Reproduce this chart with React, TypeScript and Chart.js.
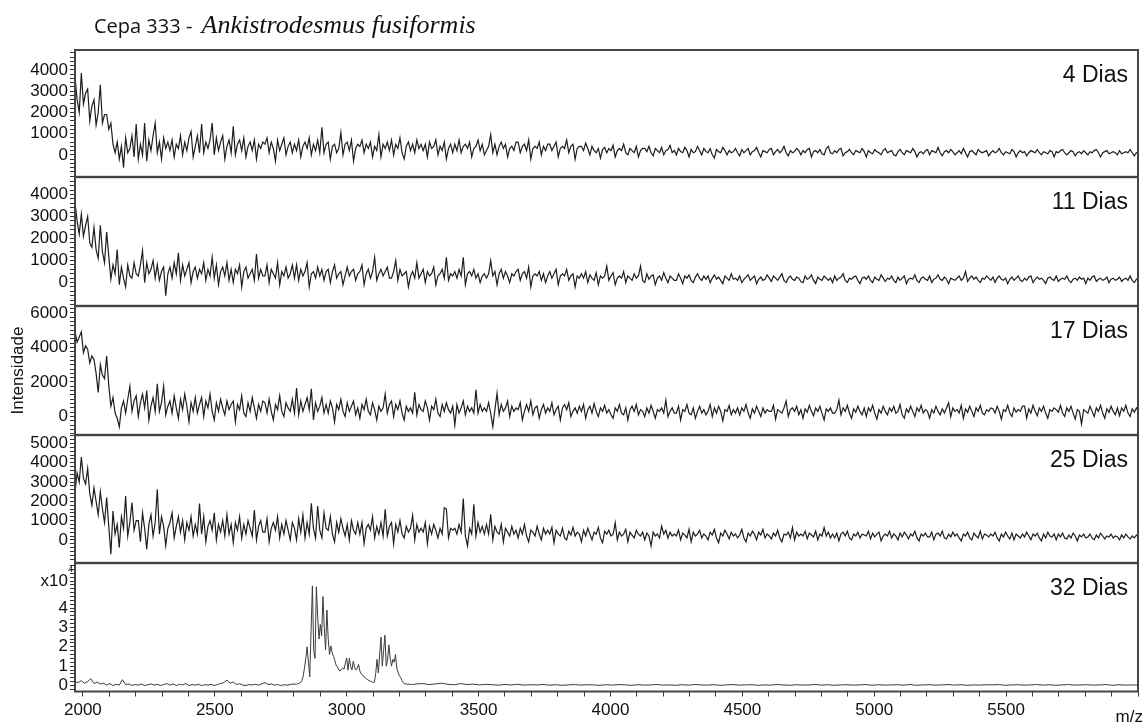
import { useEffect, useRef } from "react";
import { Chart, registerables } from "chart.js";

Chart.register(...registerables);

const SANS = '"Liberation Sans", Arial, Helvetica, sans-serif';
Chart.defaults.font.family = SANS;
Chart.defaults.color = "#111";

// m/z range shown on the shared x axis
const MZ_MIN = 1970;
const MZ_MAX = 6000;
// sampling step (m/z) of the noise traces
const MZ_STEP = 8;

const dayLabels = ["4 Dias", "11 Dias", "17 Dias", "25 Dias", "32 Dias"];
const mzLabelled = [2000, 2500, 3000, 3500, 4000, 4500, 5000, 5500];
const MZ_TICK_FIRST = 2000;
const MZ_TICK_STEP = 100;

// Intensity, 4 days (m/z 1970, 1978, ... step 8; 15 values per 120 m/z)
const day4 = [
  3700, 2600, 2000, 3850, 2400, 2900, 3100, 1600, 2300, 2600, 1400, 2000, 3300, 1500, 1900,
  1900, 1200, 1500, 500, 100, 600, -200, 400, -600, 800, 100, 300, 900, -100, 1450,
  -200, 500, 0, 1500, -300, 700, 200, 900, 1500, 100, 600, -200, 800, 300, 600,
  200, 700, -100, 500, 300, 900, 0, 600, 200, 800, 1100, -100, 400, 900, 100,
  1450, 100, 600, 300, 700, 1500, 0, 800, 200, 600, 900, -200, 400, 700, 100,
  1350, 0, 500, 700, 200, 800, -100, 400, 600, 200, 700, -200, 500, 300, 600,
  500, 800, 100, 600, 300, -300, 700, 200, 500, 800, 0, 400, 600, 100, 500,
  200, 700, -100, 400, 600, 300, 800, 0, 500, 200, 700, 100, 1300, 100, 500,
  600, -200, 400, 500, 100, 300, 1050, 0, 500, 600, 200, 700, -300, 300, 500,
  400, 700, 100, 500, 300, 600, -100, 400, 200, 950, -100, 500, 300, 600, 200,
  700, 0, 500, 300, 800, 100, -200, 400, 600, 200, 500, 100, 700, 300, 500,
  200, 500, -100, 600, 300, 400, 700, 0, 400, 200, 600, -200, 300, 500, 100,
  500, 200, 700, 100, 400, 500, 300, 600, -100, 300, 400, 700, 200, 500, 0,
  200, 400, 950, 100, 500, 0, 400, 600, 300, 500, -100, 300, 400, 200, 600,
  600, 100, 400, 500, 200, 700, -200, 300, 400, 300, 600, 0, 400, 200, 500,
  500, 200, 400, 600, -100, 300, 400, 300, 700, 100, 400, 500, -200, 300, 400,
  400, 200, 550, 300, 0, 400, 200, 100, 300, -150, 250, 350, 100, 300, 200,
  450, -100, 200, 300, 200, 500, 100, 0, 300, 200, 100, 400, -100, 200, 300,
  300, 150, 400, 100, -50, 300, 200, 100, 350, 0, 200, 250, 450, 100, 200,
  0, 300, 150, 100, 350, 200, -100, 250, 100, 150, 400, 200, 0, 300, 150,
  100, 300, 0, -150, 250, 150, 100, 350, 200, 0, 200, 100, 150, 300, 100,
  -50, 250, 100, 200, 300, 0, 150, 200, 350, 100, -100, 200, 150, 100, 250,
  300, 0, 150, 250, 100, 200, 400, 100, -50, 200, 100, 150, 300, 200, 0,
  200, 100, 250, 300, -100, 150, 200, 100, 250, 50, 0, 300, 400, 100, 50,
  200, 100, 250, 300, -50, 100, 150, 250, 100, 0, 200, 150, 100, 300, 150,
  -100, 200, 100, 50, 250, 150, 100, 0, 200, 300, 100, 150, 200, 0, -50,
  150, 250, 100, 0, 200, 150, 100, 300, 150, -100, 100, 150, 50, 200, 250,
  0, 200, 150, 100, 350, 100, -50, 150, 200, 100, 250, 150, 0, 100, 200,
  50, 300, 100, -100, 150, 200, 100, 0, 250, 150, 100, 150, 200, -50, 100,
  200, 100, 150, 300, 100, 0, 150, 100, 50, 250, 150, -100, 100, 200, 100,
  150, -50, 100, 200, 150, 100, 250, 100, 0, 150, 100, 50, 200, 150, -100,
  150, 100, 200, 250, 100, 0, 100, 200, 150, -50, 100, 150, 50, 200, 100,
  0, 150, 100, 200, 250, 100, -100, 100, 150, 200, 50, 100, 150, 100, 0,
  200, 50, 100, 150, 100, 250, 100, -50, 100, 150,
];

// Intensity, 11 days
const day11 = [
  3650, 2800, 2200, 3100, 2100, 2600, 3000, 1800, 1600, 2500, 1500, 1100, 2600, 1400, 900,
  2300, 1200, 150, 800, 400, 1500, -100, 700, 200, -200, 800, 300, 200, 900, 400,
  300, 800, 1450, 0, 900, 400, 600, 1000, 200, 800, 100, 500, 700, -600, 400,
  700, 200, 900, 400, 1350, 100, 800, 300, 600, 900, 0, 500, 700, 200, 600,
  400, 900, 100, 600, 300, 1150, 200, 800, -100, 500, 700, 300, 900, 100, 600,
  0, 600, 400, 800, -200, 500, 700, 200, 400, 600, 100, 1300, 200, 600, 300,
  300, 800, 0, 600, 400, 200, 900, -100, 500, 300, 700, 200, 400, 800, 200,
  800, 100, 600, 300, 500, 900, -200, 400, 500, 200, 700, 300, 600, 100, 500,
  600, 0, 500, 800, 200, 400, 500, -100, 300, 700, 300, 500, 600, 100, 400,
  500, 800, -100, 400, 600, 200, 500, 1150, 100, 400, 600, 300, 500, 700, 200,
  200, 500, 1000, 100, 600, 300, 400, 500, -200, 300, 500, 200, 900, 200, 400,
  600, 0, 500, 300, 400, 700, -100, 300, 400, 600, 200, 1150, 100, 400, 300,
  500, 200, 600, 300, 1150, -100, 400, 500, 300, 600, 200, 400, 0, 300, 400,
  200, 400, 1000, 300, 500, -100, 400, 600, 200, 500, 300, 0, 400, 300, 500,
  600, 100, 400, 500, 200, 700, -200, 300, 400, 300, 500, 100, 400, 0, 300,
  500, 200, 400, 600, -100, 300, 400, 300, 600, 100, 300, 400, -200, 300, 200,
  400, 200, 500, 0, 350, 200, 100, 450, -100, 300, 200, 300, 750, 100, 300,
  450, -100, 200, 300, 200, 500, 0, 300, 200, 100, 400, 200, 300, 750, 100,
  0, 400, 150, 300, 350, -100, 200, 300, 100, 450, 200, 0, 300, 200, 100,
  100, 400, 200, -50, 300, 200, 350, 100, 0, 250, 400, 200, 100, 300, 150,
  300, 0, 200, 350, 150, 250, 100, -50, 300, 200, 100, 400, 150, 200, 100,
  300, 0, 150, 250, 350, 100, 200, 300, -50, 150, 250, 100, 150, 350, 200,
  50, 300, 200, 100, 250, 400, 100, 0, 200, 300, 150, 100, 250, 200, 50,
  0, 300, 150, 200, 350, 100, -50, 250, 150, 100, 300, 200, 100, 200, 0,
  300, 100, 200, 250, 400, 100, 0, 200, 150, 250, 300, 100, -50, 200, 250,
  150, 300, 100, 0, 250, 150, 100, 350, 200, 50, 200, 150, 300, 100, 0,
  250, 100, 200, 300, -50, 150, 200, 150, 350, 100, 0, 200, 250, 150, 100,
  300, 0, 150, 200, 350, 150, 100, 250, 150, -50, 200, 150, 100, 200, 300,
  100, 200, 500, 50, 200, 300, 150, 250, 100, 0, 200, 150, 300, 200, 100,
  250, 0, 200, 300, 150, 100, 200, -50, 150, 250, 100, 200, 300, 100, 50,
  200, 100, 250, 300, 0, 150, 250, 150, 200, 100, -50, 200, 250, 150, 100,
  300, 50, 150, 200, 150, 300, 100, 0, 150, 200, 100, 250, 150, 200, -50,
  200, 100, 250, 300, 50, 150, 200, 100, 150, 250, 0, 150, 200, 100, 150,
  250, 50, 150, 200, 100, 300, 100, 0, 150, 200,
];

// Intensity, 17 days
const day17 = [
  4950, 4300, 4600, 4900, 3700, 4100, 3900, 3100, 3500, 3300, 2500, 1400, 3000, 2400, 2200,
  3500, 1800, 600, 1100, 200, -100, -600, 500, 900, 200, 1000, 1750, 300, 900, 1200,
  0, 800, 1300, 500, 1500, -200, 600, 1100, 300, 1900, 300, 800, 1750, 100, 600,
  900, 200, 1200, 500, -100, 1000, 400, 1300, 600, -300, 800, 300, 1100, 200, 700,
  1100, 0, 900, 500, 1300, 300, -200, 800, 300, 1000, 500, 100, 900, 400, 700,
  900, -300, 700, 400, 1200, 200, 0, 800, 300, 1100, 500, -100, 700, 300, 900,
  800, 200, 1000, 300, -200, 700, 400, 1200, 300, 0, 800, 500, 300, 1000, 200,
  1650, 100, 900, 300, 700, 1100, 400, 1600, -200, 800, 300, 600, 1100, 200, 700,
  200, 900, 500, -300, 700, 400, 1000, 300, 0, 800, 300, 600, 900, 100, 500,
  -100, 700, 400, 1000, 300, 100, 800, 400, -200, 600, 300, 500, 1300, 200, 700,
  900, 0, 700, 400, 900, 200, -200, 600, 300, 500, 200, 1400, 100, 700, 400,
  300, 900, 500, -200, 600, 400, 1000, 200, 0, 700, 300, 800, 400, 200, 600,
  -500, 700, 200, 500, 900, 100, 600, 300, 500, 200, 1550, 200, 700, 300, 500,
  300, 800, 200, -580, 400, 1350, 100, 700, 300, 500, 900, 0, 600, 300, 500,
  400, 800, -200, 300, 700, 300, 900, 100, 500, 600, -100, 400, 700, 200, 500,
  300, 800, 100, 400, 600, -200, 500, 700, 400, 800, 0, 300, 500, 200, 600,
  300, 700, -100, 400, 600, 200, 750, 300, 0, 500, 300, 650, 200, 400, 100,
  -100, 500, 300, 700, 200, 100, 500, -200, 400, 600, 300, 700, 100, 400, 300,
  0, 500, 200, 650, 300, -100, 400, 300, 500, 200, 950, 0, 300, 500, 200,
  200, 600, -200, 400, 300, 700, 200, 100, 500, -100, 300, 600, 200, 400, 100,
  300, 700, 0, 500, 200, 600, 300, -250, 400, 300, 650, 100, 400, 200, 500,
  100, 500, 300, 700, 200, -100, 450, 200, 600, 300, 0, 500, 200, 400, 300,
  300, 650, -150, 400, 300, 200, 500, 900, 0, 400, 500, 300, 600, 100, 400,
  -100, 450, 250, 650, 300, 50, 500, 300, 600, 200, -200, 450, 300, 500, 200,
  200, 400, 950, 100, 500, 300, 650, 200, -100, 450, 250, 600, 300, 100, 500,
  0, 500, 300, 650, 200, -150, 400, 200, 600, 300, 100, 500, 300, 600, 200,
  300, 700, 100, -100, 450, 250, 600, 300, 0, 500, 300, 650, 200, 400, 300,
  -100, 400, 200, 600, 300, 100, 450, 200, 500, 800, 0, 500, 300, 400, 200,
  650, -100, 450, 250, 600, 300, 0, 500, 300, 650, 200, 100, 400, 300, 500,
  450, 200, 600, 300, -150, 400, 300, 650, 200, 0, 500, 250, 400, 300, 600,
  600, -100, 450, 200, 650, 300, 50, 500, 300, 600, 200, -100, 400, 300, 500,
  400, 250, 650, 200, 0, 500, 300, 600, 200, -150, 400, 300, -440, 400, 300,
  200, 600, 300, 0, 500, 300, 650, 200, -100, 450, 250, 600, 300, 100, 500,
  50, 500, 300, 650, 200, 0, 450, 250, 500, 300,
];

// Intensity, 25 days
const day25 = [
  2430, 3470, 3000, 4300, 3200, 2900, 3700, 2400, 1800, 2700, 2000, 1300, 2500, 1600, 900,
  2200, 700, -740, 1500, 300, 800, -400, 1200, 600, 2280, 200, 900, 1930, 500, 1000,
  1000, -100, 1400, 600, -480, 800, 1300, 200, 900, 2620, 300, 1200, 700, -300, 600,
  900, 1400, 100, 700, 1200, 400, 1000, 0, 900, 500, 1200, 200, 800, 300, 1880,
  300, 1200, -100, 700, 1000, 500, 1400, 0, 800, 400, 1000, 200, 1300, 300, 800,
  -140, 900, 500, 1200, 100, 800, 300, 1000, 600, 200, 1550, 0, 700, 1000, 400,
  400, 1100, -100, 600, 900, 500, 1200, 100, 800, 300, 1000, 500, 0, 900, 600,
  0, 1100, 400, 1300, 100, 900, 300, 1900, 600, 100, 1760, 500, 100, 1400, 600,
  500, 1200, 300, -100, 900, 400, 1100, 600, 200, 800, 0, 1000, 500, 300, 900,
  300, 900, -200, 600, 800, 500, 1200, 100, 700, 300, 900, 200, 1590, 200, 700,
  900, -200, 800, 400, 1000, 300, 100, 700, 400, 600, 1270, 0, 800, 400, 600,
  400, 900, -200, 700, 300, 800, 500, 100, 600, 300, 1670, 1600, 100, 600, 500,
  600, 300, 800, 400, 2140, 200, -310, 600, 300, 1850, 200, 900, 400, 700, 300,
  800, 300, 1330, 0, 700, 400, 300, 800, -100, 600, 400, 200, 700, 300, 500,
  100, 600, 300, 800, 200, -100, 500, 400, 200, 700, 300, 0, 600, 300, 500,
  300, 650, -150, 500, 300, 200, 600, 100, 0, 450, 250, 650, 200, 400, 300,
  -100, 500, 200, 600, 300, 0, 400, 300, 650, 100, -150, 450, 300, 500, 200,
  300, 890, 0, 400, 200, 300, 550, -100, 400, 250, 100, 500, 300, 200, 400,
  0, 350, 200, -310, 400, 200, 300, 100, 720, 300, 500, 100, 400, 200, 300,
  200, 500, 0, 350, 250, 100, 550, -100, 400, 200, 300, 500, 100, 300, 200,
  0, 400, 250, 550, 100, -150, 350, 200, 500, 300, 50, 400, 200, 300, 100,
  250, 550, 100, -100, 350, 200, 450, 300, 0, 400, 250, 550, 100, 300, 200,
  50, 350, 200, 500, 100, -100, 300, 250, 400, 100, 640, 0, 400, 200, 300,
  200, 450, 50, 350, 250, 150, 450, 0, 300, 200, 640, 200, 400, 100, 300,
  100, 350, -50, 300, 400, 200, 450, 100, 0, 300, 200, 400, 100, 300, 250,
  200, 450, 50, 350, 150, 300, 400, -50, 200, 300, 200, 450, 100, 300, 200,
  0, 350, 150, 400, 250, 50, 300, 200, 450, 100, -50, 300, 200, 350, 150,
  150, 400, 0, 300, 350, 200, 450, 100, 50, 300, 150, 400, 200, 300, 100,
  -50, 300, 200, 400, 100, 0, 350, 200, 100, 450, 50, 300, 250, 150, 300,
  200, 400, 100, -50, 300, 150, 400, 200, 50, 350, 0, 300, 200, 100, 300,
  150, 400, 200, 0, 300, 200, 350, 100, -50, 300, 100, 400, 200, 150, 300,
  0, 300, 150, 350, 100, 50, 250, 100, 350, 200, -50, 250, 150, 300, 100,
  150, 300, 100, 0, 250, 100, 350, 200, 50, 200, 150, 300, 100, 200, 150,
  0, 250, 100, 300, 150, 50, 200, 100, 250, 150,
];

// Intensity (x10^4), 32 days: m/z 1970..2798, step 12
const day32Start = [
  0.2, 0.15, 0.25, 0.12, 0.2, 0.35, 0.1, 0.18, 0.08, 0.12,
  0.02, 0.1, 0.0, 0.06, 0.02, 0.3, 0.05, 0.08, 0.0, 0.05,
  0.02, 0.07, 0.0, 0.04, 0.08, 0.02, 0.06, 0.0, 0.05, 0.1,
  0.02, 0.08, 0.0, 0.06, 0.03, 0.1, 0.0, 0.05, 0.02, 0.06,
  0.0, 0.04, 0.02, 0.06, 0.0, 0.05, 0.1, 0.15, 0.28, 0.12,
  0.18, 0.05, 0.1, 0.02, 0.0, 0.05, 0.03, 0.06, 0.02, 0.08,
  0.15, 0.05, 0.08, 0.02, 0.05, 0.0, 0.04, 0.02, 0.05, 0.08,
];
const DAY32_START_STEP = 12;
// 32 days, peak cluster: m/z 2800..3250, step 5
const day32Peaks = [
  0.05, 0.08, 0.06, 0.1, 0.12, 0.15, 0.25, 0.48, 0.9, 1.4,
  2.0, 1.2, 0.45, 2.8, 5.15, 1.8, 1.4, 5.1, 3.6, 2.4,
  3.15, 2.55, 4.6, 3.0, 1.85, 3.9, 2.4, 1.6, 2.05, 1.7,
  1.5, 1.3, 1.05, 0.95, 0.8, 0.75, 0.85, 0.9, 0.85, 1.15,
  1.42, 0.8, 1.4, 1.0, 0.8, 1.25, 0.95, 0.8, 0.9, 1.08,
  0.75, 0.6, 0.55, 0.45, 0.4, 0.35, 0.3, 0.25, 0.22, 0.2,
  0.15, 0.18, 0.6, 1.35, 0.65, 1.6, 2.5, 1.0, 1.8, 2.6,
  1.0, 1.3, 2.1, 1.4, 1.0, 1.35, 1.2, 1.6, 0.9, 0.66,
  0.5, 0.4, 0.25, 0.15, 0.07, 0.1, 0.05, 0.08, 0.04, 0.06,
  0.05,
];
// 32 days, tail: m/z 3264..6000, step 24
const day32Tail = [
  0.08, 0.1, 0.05, 0.08, 0.12, 0.06, 0.04, 0.1, 0.05, 0.07,
  0.03, 0.06, 0.04, 0.02, 0.05, 0.03, 0.06, 0.02, 0.04, 0.03,
  0.05, 0.02, 0.04, 0.01, 0.03, 0.05, 0.02, 0.04, 0.03, 0.01,
  0.04, 0.02, 0.05, 0.03, 0.01, 0.04, 0.02, 0.03, 0.05, 0.02,
  0.03, 0.01, 0.04, 0.02, 0.05, 0.03, 0.02, 0.04, 0.01, 0.03,
  0.05, 0.02, 0.03, 0.04, 0.01, 0.03, 0.02, 0.05, 0.03, 0.01,
  0.04, 0.02, 0.03, 0.05, 0.02, 0.04, 0.01, 0.03, 0.04, 0.02,
  0.03, 0.05, 0.01, 0.04, 0.02, 0.03, 0.04, 0.02, 0.05, 0.01,
  0.03, 0.04, 0.02, 0.03, 0.05, 0.02, 0.04, 0.01, 0.03, 0.02,
  0.04, 0.03, 0.05, 0.01, 0.03, 0.04, 0.02, 0.03, 0.05, 0.02,
  0.04, 0.01, 0.03, 0.05, 0.02, 0.03, 0.04, 0.02, 0.03, 0.05,
  0.01, 0.04, 0.02, 0.03, 0.02,
];

type Pt = { x: number; y: number };
const toPoints = (values: number[], start: number, step: number): Pt[] =>
  values.map((y, i) => ({ x: start + i * step, y }));

const SERIES: Pt[][] = [
  toPoints(day4, MZ_MIN, MZ_STEP),
  toPoints(day11, MZ_MIN, MZ_STEP),
  toPoints(day17, MZ_MIN, MZ_STEP),
  toPoints(day25, MZ_MIN, MZ_STEP),
  [
    ...toPoints(day32Start, MZ_MIN, DAY32_START_STEP),
    ...toPoints(day32Peaks, 2800, 5),
    ...toPoints(day32Tail, 3264, 24),
  ],
];

// Layout of the stacked panels (page pixels) and their value ranges
type PanelSpec = {
  top: number;
  bottom: number;
  yMin: number;
  yMax: number;
  minorStep: number;
  majorStep: number;
  labelMax: number;
};
const PANELS: PanelSpec[] = [
  { top: 50, bottom: 177, yMin: -1035, yMax: 4940, minorStep: 200, majorStep: 1000, labelMax: 4000 },
  { top: 177, bottom: 306, yMin: -1055, yMax: 4785, minorStep: 200, majorStep: 1000, labelMax: 4000 },
  { top: 306, bottom: 435, yMin: -1056, yMax: 6386, minorStep: 250, majorStep: 2000, labelMax: 6000 },
  { top: 435, bottom: 563, yMin: -1190, yMax: 5430, minorStep: 200, majorStep: 1000, labelMax: 5000 },
  { top: 563, bottom: 691.5, yMin: -0.31, yMax: 6.32, minorStep: 0.2, majorStep: 1, labelMax: 4 },
];

const PAGE_W = 1145;
const PAGE_H = 723;
const AXIS_W = 75;
const RIGHT_PAD = 7;
const FRAME_COLOR = "#454545";

// regularly spaced tick values between lo and hi
function tickRange(lo: number, hi: number, step: number) {
  const out: { value: number }[] = [];
  const first = Math.ceil(lo / step - 1e-9);
  for (let k = first; k * step <= hi + 1e-9; k++) {
    out.push({ value: Math.round(k * step * 1e6) / 1e6 });
  }
  return out;
}

function canvasBox(i: number) {
  const p = PANELS[i];
  const top = i === 0 ? 0 : p.top - 12;
  const bottom = i === PANELS.length - 1 ? PAGE_H : p.bottom + 12;
  return { top, height: bottom - top };
}

function decorPlugin(i: number) {
  return {
    id: "panelDecor",
    afterDraw(chart: Chart) {
      const { ctx, chartArea: a } = chart;
      const box = canvasBox(i);
      ctx.save();
      // frame around the panel
      ctx.strokeStyle = FRAME_COLOR;
      ctx.lineWidth = 2;
      ctx.strokeRect(a.left, a.top, a.right - a.left, a.bottom - a.top);
      // day label
      ctx.fillStyle = "#111";
      ctx.textBaseline = "alphabetic";
      ctx.textAlign = "right";
      ctx.font = `23px ${SANS}`;
      ctx.fillText(dayLabels[i], a.right - 10, a.top + 31.5);
      if (i === 0) {
        ctx.textAlign = "left";
        ctx.font = '20px "Open Sans", "Noto Sans", sans-serif';
        const lead = "Cepa 333 - ";
        ctx.fillText(lead, 94, 33);
        const w = ctx.measureText(lead).width;
        ctx.font = 'italic 26px "Liberation Serif", "Times New Roman", serif';
        ctx.fillText("Ankistrodesmus fusiformis", 94 + w + 4, 33);
      }
      if (i === PANELS.length - 1) {
        ctx.textAlign = "right";
        ctx.font = `17px ${SANS}`;
        ctx.fillText("m/z", 1143, 722 - box.top);
        ctx.fillText("x10", 68, 586 - box.top);
        ctx.textAlign = "left";
        ctx.font = `9px ${SANS}`;
        ctx.fillText("4", 68, 572 - box.top);
      }
      ctx.restore();
    },
  };
}

function makeChart(canvas: HTMLCanvasElement, i: number) {
  const p = PANELS[i];
  const box = canvasBox(i);
  const isLast = i === PANELS.length - 1;
  const padTop = p.top - box.top;
  const padBottom = isLast ? 0 : box.top + box.height - p.bottom;
  const xAxisHeight = isLast ? box.top + box.height - p.bottom : 0;
  const tickFont = { family: SANS, size: 17 };
  const tickGrid = {
    display: true,
    drawOnChartArea: false,
    drawTicks: true,
    tickLength: 5,
    tickColor: "#333",
    tickWidth: 1,
  };

  return new Chart(canvas, {
    type: "line",
    data: {
      datasets: [
        {
          data: SERIES[i],
          borderColor: isLast ? "#3c3c3c" : "#1e1e1e",
          borderWidth: isLast ? 1 : 1.2,
          pointRadius: 0,
          tension: 0,
          fill: false,
        },
      ],
    },
    options: {
      animation: false,
      responsive: false,
      devicePixelRatio: 1,
      parsing: false,
      normalized: true,
      events: [],
      layout: { padding: { left: 0, right: RIGHT_PAD, top: padTop, bottom: padBottom } },
      plugins: {
        legend: { display: false },
        tooltip: { enabled: false },
        title: { display: false },
      },
      scales: {
        x: {
          type: "linear",
          min: MZ_MIN,
          max: MZ_MAX,
          display: isLast,
          afterBuildTicks: (s: any) => {
            s.ticks = tickRange(MZ_TICK_FIRST, MZ_MAX, MZ_TICK_STEP);
          },
          afterFit: (s: any) => {
            s.height = xAxisHeight;
          },
          border: { display: false },
          grid: tickGrid,
          ticks: {
            autoSkip: false,
            maxRotation: 0,
            minRotation: 0,
            padding: 4,
            color: "#111",
            font: tickFont,
            callback: (v: any) => (mzLabelled.includes(Number(v)) ? String(v) : ""),
          },
        },
        y: {
          type: "linear",
          min: p.yMin,
          max: p.yMax,
          afterBuildTicks: (s: any) => {
            s.ticks = tickRange(p.yMin, p.yMax, p.minorStep);
          },
          afterFit: (s: any) => {
            s.width = AXIS_W;
          },
          border: { display: false },
          grid: tickGrid,
          ticks: {
            autoSkip: false,
            padding: 2,
            color: "#111",
            font: tickFont,
            callback: (v: any) => {
              const n = Number(v);
              if (n < -1e-9 || n > p.labelMax + 1e-9) return "";
              const k = n / p.majorStep;
              return Math.abs(k - Math.round(k)) < 1e-6 ? String(Math.round(k) * p.majorStep) : "";
            },
          },
          title: {
            display: i === 2,
            text: "Intensidade",
            color: "#111",
            font: { family: SANS, size: 17 },
            padding: { top: 8, bottom: 0 },
          },
        },
      },
    },
    plugins: [decorPlugin(i)],
  } as any);
}

export default function App() {
  const refs = useRef<(HTMLCanvasElement | null)[]>([]);

  useEffect(() => {
    const charts = PANELS.map((_, i) => makeChart(refs.current[i] as HTMLCanvasElement, i));
    return () => charts.forEach((c) => c.destroy());
  }, []);

  return (
    <div
      style={{
        position: "fixed",
        left: 0,
        top: 0,
        width: PAGE_W,
        height: PAGE_H,
        background: "#fff",
        overflow: "hidden",
      }}
    >
      {PANELS.map((_, i) => {
        const box = canvasBox(i);
        return (
          <canvas
            key={i}
            ref={(el) => {
              refs.current[i] = el;
            }}
            width={PAGE_W}
            height={box.height}
            style={{ position: "absolute", left: 0, top: box.top, display: "block" }}
          />
        );
      })}
    </div>
  );
}
